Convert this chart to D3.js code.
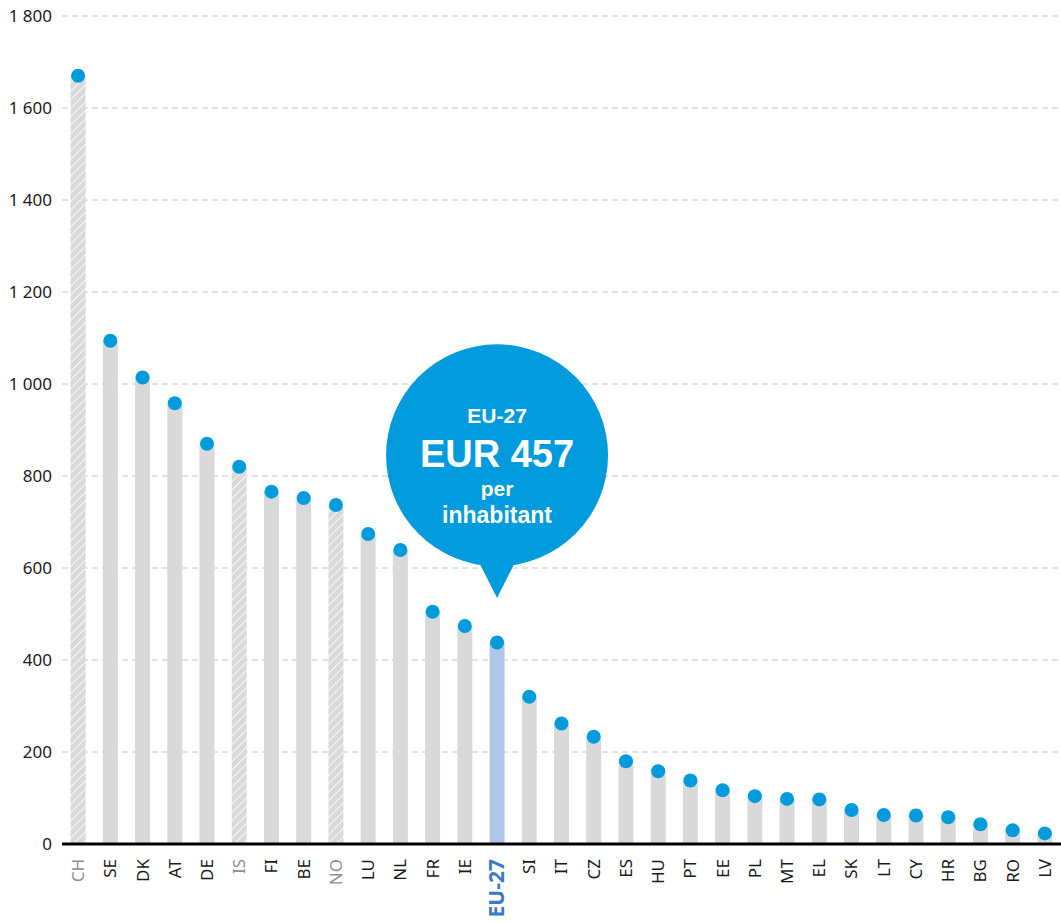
<!DOCTYPE html>
<html>
<head>
    <meta charset="utf-8">
    <title>Expenditure per inhabitant</title>
    <script src="https://d3js.org/d3.v7.min.js"></script>
    <style>
        body { margin: 0; background: #fff; }
        svg { display: block; font-family: "Noto Sans", "Open Sans", sans-serif; }
    </style>
</head>
<body>
    <svg id="chart" width="1061" height="922"></svg>

    <script>
        // data
        var countries = ["CH", "SE", "DK", "AT", "DE", "IS", "FI", "BE", "NO", "LU", "NL", "FR", "IE", "EU-27",
            "SI", "IT", "CZ", "ES", "HU", "PT", "EE", "PL", "MT", "EL", "SK", "LT", "CY", "HR", "BG", "RO", "LV"]
        var values = [1670, 1094, 1014, 958, 870, 820, 766, 752, 737, 674, 639, 505, 474, 438,
            320, 262, 233, 180, 158, 138, 117, 104, 98, 97, 74, 63, 62, 58, 43, 30, 23]
        var nonEU = ["CH", "IS", "NO"]
        var euLabel = "EU-27"
        var euAverage = 457
        var yTicks = [0, 200, 400, 600, 800, 1000, 1200, 1400, 1600, 1800]

        var data = countries.map((c, i) => ({ c: c, v: values[i] }))

        var svg = d3.select("#chart")
        var wid = 1061, hei = 922

        var x = d3.scalePoint(countries, [62, wid]).padding(0.5)
        var y = d3.scaleLinear([0, 1800], [844, 16])
        var barW = 15

        var fmt = v => d3.format(",")(v).replace(/,/g, " ")

        // hatch pattern for non-EU countries
        var pat = svg.append("defs").append("pattern")
            .attr("id", "hatch")
            .attr("patternUnits", "userSpaceOnUse")
            .attr("width", 6).attr("height", 6)
            .attr("patternTransform", "rotate(45)")
        pat.append("rect").attr("width", 6).attr("height", 6).attr("fill", "#d9d9d9")
        pat.append("line").attr("x1", 0).attr("y1", 0).attr("x2", 0).attr("y2", 6)
            .attr("stroke", "#fff").attr("stroke-width", 1.6)

        // gridlines
        svg.append("g")
            .selectAll("line")
            .data(yTicks.filter(t => t > 0)).enter()
            .append("line")
            .attr("x1", 62).attr("x2", wid)
            .attr("y1", d => y(d)).attr("y2", d => y(d))
            .attr("stroke", "#c8c8c8")
            .attr("stroke-width", 1)
            .attr("stroke-dasharray", "6,4")

        // y labels
        svg.append("g")
            .selectAll("text")
            .data(yTicks).enter()
            .append("text")
            .attr("x", 52)
            .attr("y", d => y(d))
            .attr("dy", "0.35em")
            .attr("text-anchor", "end")
            .style("font-size", "17px")
            .attr("fill", "#1a1a1a")
            .text(d => fmt(d))

        // bars
        svg.append("g")
            .selectAll("rect")
            .data(data).enter()
            .append("rect")
            .attr("x", d => x(d.c) - barW / 2)
            .attr("y", d => y(d.v))
            .attr("width", barW)
            .attr("height", d => y(0) - y(d.v))
            .attr("fill", d => nonEU.includes(d.c) ? "url(#hatch)" : (d.c == euLabel ? "#b0c6e8" : "#d9d9d9"))

        // zero line
        svg.append("line")
            .attr("x1", 62).attr("x2", wid)
            .attr("y1", y(0)).attr("y2", y(0))
            .attr("stroke", "#000")
            .attr("stroke-width", 3)

        // dots
        svg.append("g")
            .selectAll("circle")
            .data(data).enter()
            .append("circle")
            .attr("cx", d => x(d.c))
            .attr("cy", d => y(d.v))
            .attr("r", 7)
            .attr("fill", "#009bdc")

        // category labels
        svg.append("g")
            .selectAll("text")
            .data(data).enter()
            .append("text")
            .attr("transform", d => "translate(" + x(d.c) + "," + (y(0) + 15) + ") rotate(-90)")
            .attr("dy", "0.35em")
            .attr("text-anchor", "end")
            .style("font-size", d => d.c == euLabel ? "21px" : "17px")
            .style("font-weight", d => d.c == euLabel ? "bold" : "normal")
            .attr("fill", d => d.c == euLabel ? "#3d78c6" : (nonEU.includes(d.c) ? "#8f8f8f" : "#1a1a1a"))
            .text(d => d.c)

        // EU-27 call-out bubble
        var bx = x(euLabel), by = y(845), br = 111, tipY = y(535)
        var bub = svg.append("g")
        bub.append("circle")
            .attr("cx", bx).attr("cy", by).attr("r", br)
            .attr("fill", "#009bdc")
        bub.append("path")
            .attr("d", "M" + (bx - 18) + "," + (by + br - 4) + "L" + bx + "," + tipY + "L" + (bx + 18) + "," + (by + br - 4) + "Z")
            .attr("fill", "#009bdc")

        var lines = [
            { t: euLabel, s: 21, dy: -32 },
            { t: "EUR " + euAverage, s: 38, dy: 12 },
            { t: "per", s: 21, dy: 41 },
            { t: "inhabitant", s: 23, dy: 68 }
        ]
        bub.selectAll("text")
            .data(lines).enter()
            .append("text")
            .attr("x", bx)
            .attr("y", d => by + d.dy)
            .attr("text-anchor", "middle")
            .style("font-family", "'Liberation Sans', Arial, sans-serif")
            .style("font-size", d => d.s + "px")
            .style("font-weight", "bold")
            .attr("fill", "#fff")
            .text(d => d.t)
    </script>
</body>
</html>
